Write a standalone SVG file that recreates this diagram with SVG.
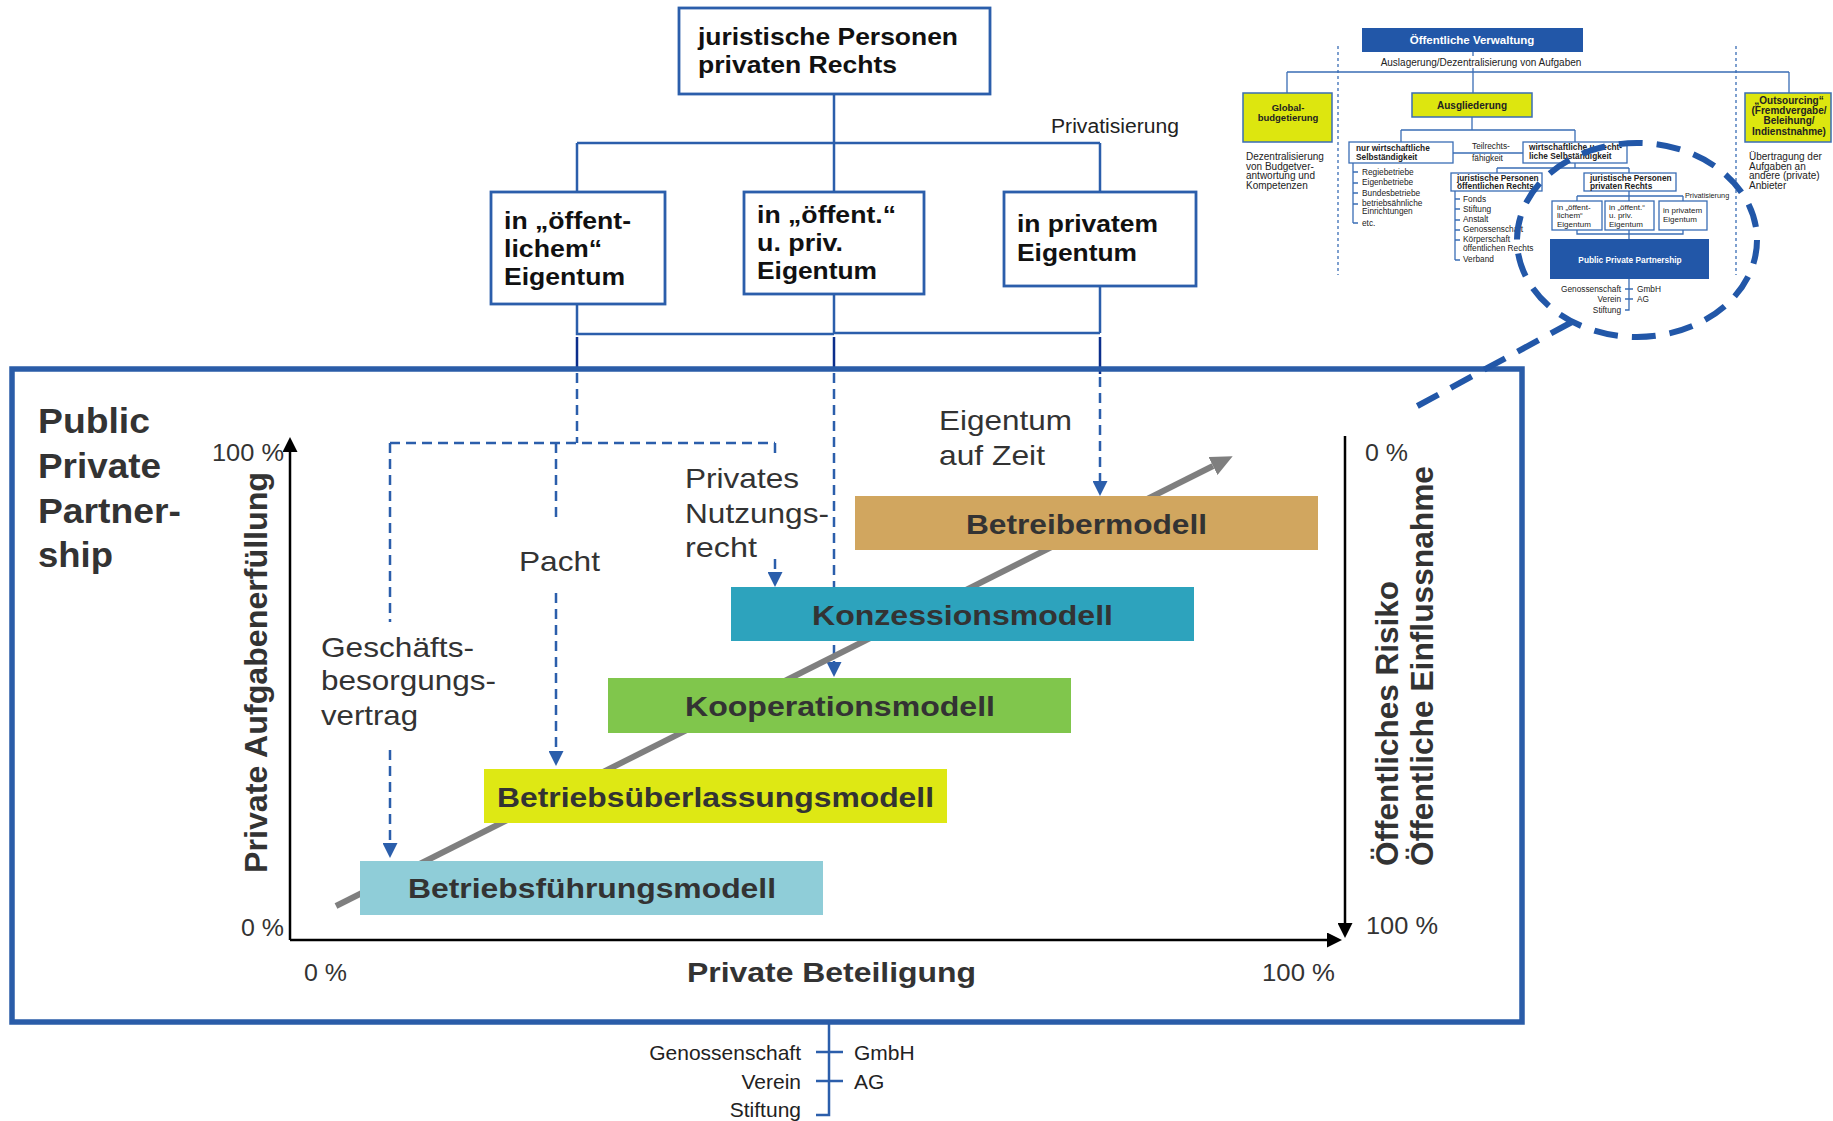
<svg xmlns="http://www.w3.org/2000/svg" width="1833" height="1121" viewBox="0 0 1833 1121">
<style>
.t{font-family:"Liberation Sans",Arial,Helvetica,sans-serif}
.bd{font-weight:bold}
.k{fill:#111}
.g{fill:#333}
.m{fill:#222}
.w{fill:#fff}
.bl{stroke:#2B5EAB;fill:none;stroke-width:2.5}
.bx{fill:#fff;stroke:#2B5EAB;stroke-width:2.8}
.dk{stroke:#0B2E8C;stroke-width:2.5;fill:none}
.ds{stroke:#2B5EAB;fill:none;stroke-width:2.5;stroke-dasharray:10 6}
.ax{stroke:#000;stroke-width:2.5;fill:none}
.ml{stroke:#3A6DB5;fill:none;stroke-width:1.3}
.mb{fill:#fff;stroke:#3A6DB5;stroke-width:1.3}
.my{fill:#DDE60F;stroke:#3A6DB5;stroke-width:1.5}
.dot{stroke:#3A6DB5;stroke-width:1.3;stroke-dasharray:3 3;fill:none}
</style>
<defs>
<marker id="ab" markerUnits="userSpaceOnUse" markerWidth="15" markerHeight="15" refX="0" refY="7.5" orient="auto"><path d="M0,0 L15,7.5 L0,15 z" fill="#000"/></marker>
<marker id="bb" markerUnits="userSpaceOnUse" markerWidth="15" markerHeight="15" refX="0" refY="7.5" orient="auto"><path d="M0,0 L15,7.5 L0,15 z" fill="#2B5EAB"/></marker>
<marker id="gb" markerUnits="userSpaceOnUse" markerWidth="22" markerHeight="20" refX="0" refY="10" orient="auto"><path d="M0,0 L22,10 L0,20 z" fill="#7F7F7F"/></marker>
</defs>
<rect width="1833" height="1121" fill="#fff"/>

<!-- connectors -->
<g id="connectors">
<path class="bl" d="M834,94 V143 M577,143 H1100 M577,143 V192 M834,143 V192 M1100,143 V192"/>
<path class="bl" d="M577,304 V334 H834 M834,294 V333 H1100 M1100,286 V333"/>
<path class="dk" d="M577,337 V368 M834,337 V370 M1100,337 V374"/>
<path class="ds" d="M577,373 V443 M390,443 H775"/>
<path class="ds" d="M390,443 V622"/>
<path class="ds" d="M390,750 V843" marker-end="url(#bb)"/>
<path class="ds" d="M556,443 V523"/>
<path class="ds" d="M556,593 V751" marker-end="url(#bb)"/>
<path class="ds" d="M775,443 V453"/>
<path class="ds" d="M775,559 V572" marker-end="url(#bb)"/>
<path class="ds" d="M834,373 V662" marker-end="url(#bb)"/>
<path class="ds" d="M1100,377 V481" marker-end="url(#bb)"/>
<line x1="336" y1="906" x2="1213" y2="466" stroke="#7F7F7F" stroke-width="6" marker-end="url(#gb)"/>
<path class="bl" d="M829,1022 V1115 H816 M816,1052 H843 M816,1081 H843"/>
</g>

<!-- top hierarchy -->
<g id="node-jur-priv">
<rect class="bx" x="679" y="8" width="311" height="86"/>
<text class="t bd k" x="698" y="45" font-size="24" textLength="260" lengthAdjust="spacingAndGlyphs">juristische Personen</text>
<text class="t bd k" x="698" y="73" font-size="24" textLength="199" lengthAdjust="spacingAndGlyphs">privaten Rechts</text>
</g>
<text class="t m" x="1051" y="133" font-size="19.5" textLength="128" lengthAdjust="spacingAndGlyphs">Privatisierung</text>
<g id="node-oeff">
<rect class="bx" x="491" y="192" width="174" height="112"/>
<text class="t bd k" x="504" y="229" font-size="24" textLength="127" lengthAdjust="spacingAndGlyphs">in „öffent-</text>
<text class="t bd k" x="504" y="257" font-size="24" textLength="98" lengthAdjust="spacingAndGlyphs">lichem“</text>
<text class="t bd k" x="504" y="285" font-size="24" textLength="121" lengthAdjust="spacingAndGlyphs">Eigentum</text>
</g>
<g id="node-oeff-priv">
<rect class="bx" x="744" y="192" width="180" height="102"/>
<text class="t bd k" x="757" y="223" font-size="24" textLength="139" lengthAdjust="spacingAndGlyphs">in „öffent.“</text>
<text class="t bd k" x="757" y="251" font-size="24" textLength="86" lengthAdjust="spacingAndGlyphs">u. priv.</text>
<text class="t bd k" x="757" y="279" font-size="24" textLength="120" lengthAdjust="spacingAndGlyphs">Eigentum</text>
</g>
<g id="node-privat">
<rect class="bx" x="1004" y="192" width="192" height="94"/>
<text class="t bd k" x="1017" y="232" font-size="24" textLength="141" lengthAdjust="spacingAndGlyphs">in privatem</text>
<text class="t bd k" x="1017" y="261" font-size="24" textLength="120" lengthAdjust="spacingAndGlyphs">Eigentum</text>
</g>

<!-- PPP frame -->
<g id="node-ppp-frame">
<rect x="12" y="369" width="1510" height="653" fill="none" stroke="#2A5CA8" stroke-width="5.5"/>
<text class="t bd g" x="38" y="433" font-size="35" textLength="112" lengthAdjust="spacingAndGlyphs">Public</text>
<text class="t bd g" x="38" y="478" font-size="35" textLength="123" lengthAdjust="spacingAndGlyphs">Private</text>
<text class="t bd g" x="38" y="523" font-size="35" textLength="143" lengthAdjust="spacingAndGlyphs">Partner-</text>
<text class="t bd g" x="38" y="567" font-size="35" textLength="75" lengthAdjust="spacingAndGlyphs">ship</text>
</g>

<!-- axes -->
<g id="axes">
<path class="ax" d="M290,940 V452" marker-end="url(#ab)"/>
<path class="ax" d="M290,940 H1327" marker-end="url(#ab)"/>
<path class="ax" d="M1345,436 V923" marker-end="url(#ab)"/>
<text class="t g" x="284" y="461" font-size="23" text-anchor="end" textLength="72" lengthAdjust="spacingAndGlyphs">100 %</text>
<text class="t g" x="284" y="936" font-size="23" text-anchor="end" textLength="43" lengthAdjust="spacingAndGlyphs">0 %</text>
<text class="t g" x="304" y="981" font-size="23" textLength="43" lengthAdjust="spacingAndGlyphs">0 %</text>
<text class="t g" x="1262" y="981" font-size="23" textLength="73" lengthAdjust="spacingAndGlyphs">100 %</text>
<text class="t g" x="1365" y="461" font-size="23" textLength="43" lengthAdjust="spacingAndGlyphs">0 %</text>
<text class="t g" x="1366" y="934" font-size="23" textLength="72" lengthAdjust="spacingAndGlyphs">100 %</text>
<text class="t bd g" x="687" y="982" font-size="28" textLength="289" lengthAdjust="spacingAndGlyphs">Private Beteiligung</text>
<text class="t bd g" transform="translate(267,873) rotate(-90)" font-size="32" textLength="401" lengthAdjust="spacingAndGlyphs">Private Aufgabenerfüllung</text>
<text class="t bd g" transform="translate(1398,866) rotate(-90)" font-size="32" textLength="285" lengthAdjust="spacingAndGlyphs">Öffentliches Risiko</text>
<text class="t bd g" transform="translate(1433,866) rotate(-90)" font-size="32" textLength="400" lengthAdjust="spacingAndGlyphs">Öffentliche Einflussnahme</text>
</g>

<!-- labels of relations -->
<g id="labels">
<text class="t g" x="939" y="430" font-size="28" textLength="133" lengthAdjust="spacingAndGlyphs">Eigentum</text>
<text class="t g" x="939" y="465" font-size="28" textLength="106" lengthAdjust="spacingAndGlyphs">auf Zeit</text>
<text class="t g" x="685" y="488" font-size="28" textLength="114" lengthAdjust="spacingAndGlyphs">Privates</text>
<text class="t g" x="685" y="523" font-size="28" textLength="144" lengthAdjust="spacingAndGlyphs">Nutzungs-</text>
<text class="t g" x="685" y="557" font-size="28" textLength="72" lengthAdjust="spacingAndGlyphs">recht</text>
<text class="t g" x="519" y="571" font-size="28" textLength="81" lengthAdjust="spacingAndGlyphs">Pacht</text>
<text class="t g" x="321" y="657" font-size="28" textLength="153" lengthAdjust="spacingAndGlyphs">Geschäfts-</text>
<text class="t g" x="321" y="690" font-size="28" textLength="175" lengthAdjust="spacingAndGlyphs">besorgungs-</text>
<text class="t g" x="321" y="725" font-size="28" textLength="97" lengthAdjust="spacingAndGlyphs">vertrag</text>
</g>

<!-- models -->
<g id="node-betreiber">
<rect x="855" y="496" width="463" height="54" fill="#D1A65F"/>
<text class="t bd g" x="966" y="534" font-size="28" textLength="241" lengthAdjust="spacingAndGlyphs">Betreibermodell</text>
</g>
<g id="node-konzession">
<rect x="731" y="587" width="463" height="54" fill="#2DA3BD"/>
<text class="t bd g" x="812" y="625" font-size="28" textLength="301" lengthAdjust="spacingAndGlyphs">Konzessionsmodell</text>
</g>
<g id="node-kooperation">
<rect x="608" y="678" width="463" height="55" fill="#80C64C"/>
<text class="t bd g" x="685" y="716" font-size="28" textLength="310" lengthAdjust="spacingAndGlyphs">Kooperationsmodell</text>
</g>
<g id="node-ueberlassung">
<rect x="484" y="769" width="463" height="54" fill="#DEE814"/>
<text class="t bd g" x="497" y="807" font-size="28" textLength="437" lengthAdjust="spacingAndGlyphs">Betriebsüberlassungsmodell</text>
</g>
<g id="node-fuehrung">
<rect x="360" y="861" width="463" height="54" fill="#8FCDD8"/>
<text class="t bd g" x="408" y="898" font-size="28" textLength="368" lengthAdjust="spacingAndGlyphs">Betriebsführungsmodell</text>
</g>

<!-- legal forms below -->
<g id="node-rechtsformen">
<text class="t m" x="801" y="1060" font-size="21" text-anchor="end">Genossenschaft</text>
<text class="t m" x="854" y="1060" font-size="21">GmbH</text>
<text class="t m" x="801" y="1089" font-size="21" text-anchor="end">Verein</text>
<text class="t m" x="854" y="1089" font-size="21">AG</text>
<text class="t m" x="801" y="1117" font-size="21" text-anchor="end">Stiftung</text>
</g>

<!-- overview mini diagram -->
<g id="mini-overview">
<path class="dot" d="M1338,46 V275 M1736,46 V275"/>
<path class="ml" d="M1473,52 V56 M1473,68 V72 M1287,72 H1789 M1287,72 V93 M1473,72 V93 M1789,72 V93"/>
<rect x="1362" y="28" width="221" height="24" fill="#2257A8"/>
<text class="t bd w" x="1472" y="44" font-size="11.5" text-anchor="middle">Öffentliche Verwaltung</text>
<text class="t m" x="1481" y="66" font-size="10" text-anchor="middle">Auslagerung/Dezentralisierung von Aufgaben</text>
<rect class="my" x="1243" y="93" width="89" height="49"/>
<text class="t bd m" x="1288" y="111" font-size="9.5" text-anchor="middle">Global-</text>
<text class="t bd m" x="1288" y="121" font-size="9.5" text-anchor="middle">budgetierung</text>
<rect class="my" x="1412" y="93" width="120" height="24"/>
<text class="t bd m" x="1472" y="109" font-size="10" text-anchor="middle">Ausgliederung</text>
<rect class="my" x="1745" y="93" width="86" height="49"/>
<text class="t bd m" x="1789" y="104" font-size="10" text-anchor="middle">„Outsourcing“</text>
<text class="t bd m" x="1789" y="114" font-size="10" text-anchor="middle">(Fremdvergabe/</text>
<text class="t bd m" x="1789" y="124" font-size="10" text-anchor="middle">Beleihung/</text>
<text class="t bd m" x="1789" y="135" font-size="10" text-anchor="middle">Indienstnahme)</text>
<text class="t m" font-size="10"><tspan x="1246" y="160">Dezentralisierung</tspan><tspan x="1246" y="170">von Budgetver-</tspan><tspan x="1246" y="179">antwortung und</tspan><tspan x="1246" y="189">Kompetenzen</tspan></text>
<text class="t m" font-size="10"><tspan x="1749" y="160">Übertragung der</tspan><tspan x="1749" y="170">Aufgaben an</tspan><tspan x="1749" y="179">andere (private)</tspan><tspan x="1749" y="189">Anbieter</tspan></text>
<path class="ml" d="M1472,117 V130 M1401,130 H1575 M1401,130 V142 M1575,130 V142 M1453,153 H1523"/>
<rect class="mb" x="1349" y="142" width="104" height="21"/>
<text class="t bd m" x="1356" y="151" font-size="8.3">nur wirtschaftliche</text>
<text class="t bd m" x="1356" y="160" font-size="8.3">Selbständigkeit</text>
<text class="t m" x="1472" y="149" font-size="8.3">Teilrechts-</text>
<text class="t m" x="1472" y="161" font-size="8.3">fähigkeit</text>
<rect class="mb" x="1523" y="142" width="104" height="21"/>
<text class="t bd m" x="1529" y="150" font-size="8.3">wirtschaftliche u. recht-</text>
<text class="t bd m" x="1529" y="159" font-size="8.3">liche Selbständigkeit</text>
<path class="ml" d="M1353,163 V223 M1353,172 H1358 M1353,183 H1358 M1353,193 H1358 M1353,204 H1358 M1353,223 H1358"/>
<text class="t m" font-size="8.3"><tspan x="1362" y="175">Regiebetriebe</tspan><tspan x="1362" y="185">Eigenbetriebe</tspan><tspan x="1362" y="196">Bundesbetriebe</tspan><tspan x="1362" y="206">betriebsähnliche</tspan><tspan x="1362" y="214">Einrichtungen</tspan><tspan x="1362" y="226">etc.</tspan></text>
<path class="ml" d="M1575,163 V168 M1497,168 H1629 M1497,168 V173 M1629,168 V173"/>
<rect class="mb" x="1451" y="173" width="91" height="18"/>
<text class="t bd m" x="1457" y="181" font-size="8.3">juristische Personen</text>
<text class="t bd m" x="1457" y="189" font-size="8.3">öffentlichen Rechts</text>
<rect class="mb" x="1584" y="173" width="92" height="18"/>
<text class="t bd m" x="1590" y="181" font-size="8.3">juristische Personen</text>
<text class="t bd m" x="1590" y="189" font-size="8.3">privaten Rechts</text>
<path class="ml" d="M1455,191 V260 M1455,199 H1460 M1455,209 H1460 M1455,220 H1460 M1455,230 H1460 M1455,240 H1460 M1455,260 H1460"/>
<text class="t m" font-size="8.3"><tspan x="1463" y="202">Fonds</tspan><tspan x="1463" y="212">Stiftung</tspan><tspan x="1463" y="222">Anstalt</tspan><tspan x="1463" y="232">Genossenschaft</tspan><tspan x="1463" y="242">Körperschaft</tspan><tspan x="1463" y="251">öffentlichen Rechts</tspan><tspan x="1463" y="262">Verband</tspan></text>
<path class="ml" d="M1629,191 V196 M1577,196 H1683 M1577,196 V201 M1629,196 V201 M1683,196 V201"/>
<text class="t m" x="1685" y="198" font-size="7.3">Privatisierung</text>
<rect class="mb" x="1552" y="201" width="50" height="29"/>
<rect class="mb" x="1605" y="201" width="49" height="29"/>
<rect class="mb" x="1659" y="201" width="48" height="29"/>
<text class="t m" font-size="8"><tspan x="1557" y="210">in „öffent-</tspan><tspan x="1557" y="218">lichem“</tspan><tspan x="1557" y="227">Eigentum</tspan></text>
<text class="t m" font-size="8"><tspan x="1609" y="210">in „öffent.“</tspan><tspan x="1609" y="218">u. priv.</tspan><tspan x="1609" y="227">Eigentum</tspan></text>
<text class="t m" font-size="8"><tspan x="1663" y="213">in privatem</tspan><tspan x="1663" y="222">Eigentum</tspan></text>
<path class="ml" d="M1577,230 V234 H1683 V230 M1629,230 V239"/>
<rect x="1550" y="239" width="159" height="40" fill="#2257A8"/>
<text class="t bd w" x="1630" y="263" font-size="8.3" text-anchor="middle">Public Private Partnership</text>
<path class="ml" d="M1629,279 V310 H1625 M1625,289 H1633 M1625,299 H1633"/>
<text class="t m" x="1621" y="292" font-size="8.3" text-anchor="end">Genossenschaft</text>
<text class="t m" x="1637" y="292" font-size="8.3">GmbH</text>
<text class="t m" x="1621" y="302" font-size="8.3" text-anchor="end">Verein</text>
<text class="t m" x="1637" y="302" font-size="8.3">AG</text>
<text class="t m" x="1621" y="313" font-size="8.3" text-anchor="end">Stiftung</text>
</g>
<g id="zoom-highlight">
<ellipse cx="1637" cy="240" rx="120" ry="97" fill="none" stroke="#2257A8" stroke-width="6" stroke-dasharray="24 14"/>
<line x1="1572" y1="322" x2="1410" y2="410" stroke="#2257A8" stroke-width="6" stroke-dasharray="24 14"/>
</g>
</svg>
